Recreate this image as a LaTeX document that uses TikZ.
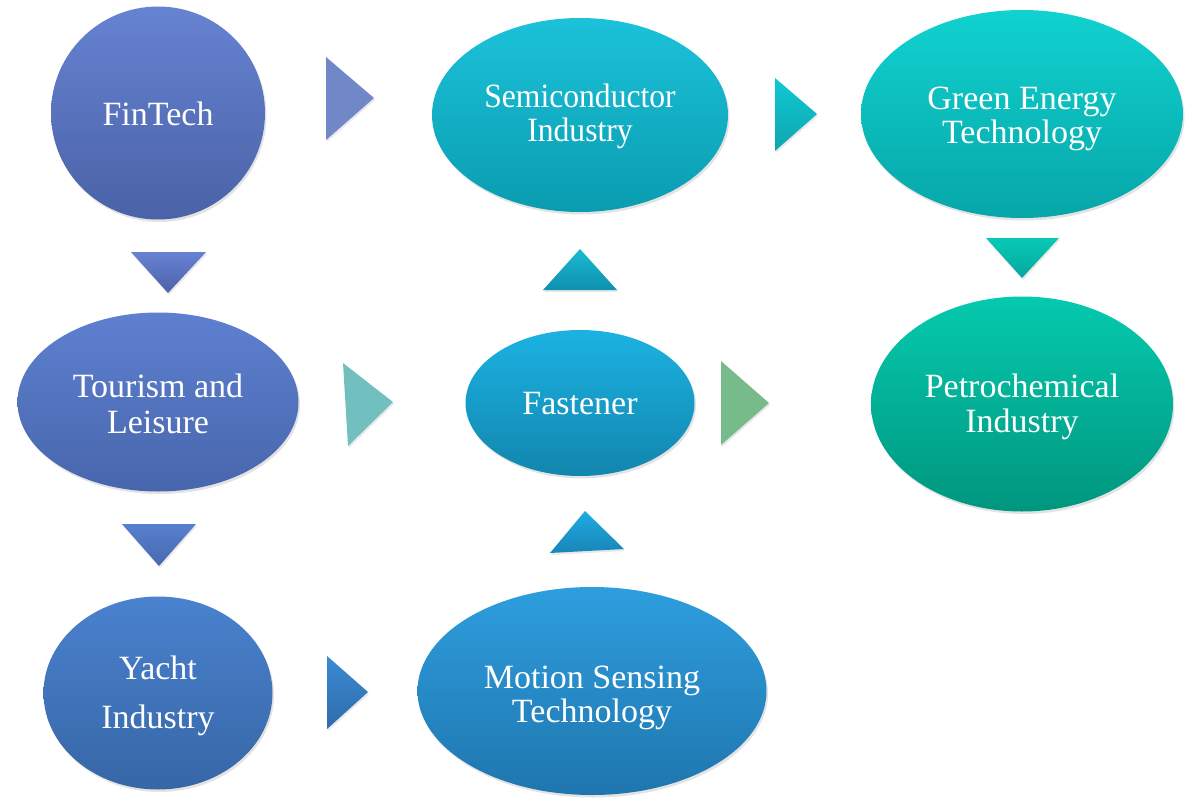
\documentclass[tikz,border=0pt]{standalone}
\usepackage{fontspec}
\setmainfont{Liberation Serif}
\usetikzlibrary{shapes.geometric,shadows}
\tikzset{
  bub/.style={ellipse, inner sep=0pt,
    drop shadow={opacity=0.22, shadow xshift=1.5pt, shadow yshift=-2.5pt}},
  bubtxt/.style={text=white, align=center, inner sep=0pt,
    font=\fontsize{34}{34}\selectfont},
  tri/.style={drop shadow={opacity=0.18, shadow xshift=1pt, shadow yshift=-2pt}}
}
\definecolor{finT}{HTML}{6683D2}\definecolor{finB}{HTML}{4A62A6}
\definecolor{touT}{HTML}{5E80D0}\definecolor{touB}{HTML}{4766AC}
\definecolor{yacT}{HTML}{4A82CE}\definecolor{yacB}{HTML}{3666A6}
\definecolor{semT}{HTML}{1BC2DA}\definecolor{semB}{HTML}{0A9CB0}
\definecolor{greT}{HTML}{10D2D0}\definecolor{greB}{HTML}{07A6A8}
\definecolor{petT}{HTML}{05CAAE}\definecolor{petB}{HTML}{00967E}
\definecolor{fasT}{HTML}{1BB2E2}\definecolor{fasB}{HTML}{1286AE}
\definecolor{motT}{HTML}{2E9EDE}\definecolor{motB}{HTML}{1F76AE}
\begin{document}
\begin{tikzpicture}[x=1pt,y=-1pt]
\useasboundingbox (0,0) rectangle (1191,800);
% nodes
\node[bub, minimum width=214pt, minimum height=213pt, top color=finT, bottom color=finB,
  label={[bubtxt, name=fin-t, yshift=-0.5pt]center:FinTech}] (fin) at (158,113) {};
\node[bub, minimum width=296pt, minimum height=194pt, top color=semT, bottom color=semB,
  label={[bubtxt, name=sem-t, yshift=-2.5pt]center:{\scalebox{0.93}[1]{\begin{tabular}{@{}c@{}}Semiconductor\\Industry\end{tabular}}}}] (sem) at (580,115) {};
\node[bub, minimum width=322pt, minimum height=208pt, top color=greT, bottom color=greB,
  label={[bubtxt, name=gre-t, yshift=-4.5pt]center:{Green Energy\\Technology}}] (gre) at (1022,114) {};
\node[bub, minimum width=281pt, minimum height=179pt, top color=touT, bottom color=touB,
  label={[bubtxt, name=tou-t, yshift=-1.5pt]center:{Tourism and\\[2pt]Leisure}}] (tou) at (158,402) {};
\node[bub, minimum width=229pt, minimum height=146pt, top color=fasT, bottom color=fasB,
  label={[bubtxt, name=fas-t, yshift=-1pt]center:Fastener}] (fas) at (580,403) {};
\node[bub, minimum width=302pt, minimum height=215pt, top color=petT, bottom color=petB,
  label={[bubtxt, name=pet-t, yshift=-3pt]center:{Petrochemical\\[1pt]Industry}}] (pet) at (1022,404) {};
\node[bub, minimum width=229pt, minimum height=193pt, top color=yacT, bottom color=yacB,
  label={[bubtxt, name=yac-t, yshift=-3pt]center:{Yacht\\[15pt]Industry}}] (yac) at (158,693) {};
\node[bub, minimum width=349pt, minimum height=208pt, top color=motT, bottom color=motB,
  label={[bubtxt, name=mot-t, yshift=-6.5pt]center:{Motion Sensing\\Technology}}] (mot) at (592,691) {};
% triangle arrows
\fill[tri, fill={rgb,255:red,112;green,136;blue,200}] (326,57) -- (374,98) -- (326,140) -- cycle;
\shade[tri, top color={rgb,255:red,16;green,200;blue,210}, bottom color={rgb,255:red,14;green,166;blue,176}] (775,78) -- (817,114) -- (775,151) -- cycle;
\shade[tri, top color={rgb,255:red,102;green,130;blue,210}, bottom color={rgb,255:red,76;green,98;blue,168}] (131,252) -- (206,252) -- (168,293) -- cycle;
\shade[tri, top color={rgb,255:red,6;green,202;blue,182}, bottom color={rgb,255:red,8;green,166;blue,158}] (986,238) -- (1059,238) -- (1022,278) -- cycle;
\shade[tri, top color={rgb,255:red,26;green,186;blue,210}, bottom color={rgb,255:red,16;green,144;blue,176}] (580,249) -- (617,290) -- (543,290) -- cycle;
\fill[tri, fill={rgb,255:red,114;green,191;blue,192}] (343,363) -- (393,402) -- (348,446) -- cycle;
\fill[tri, fill={rgb,255:red,120;green,187;blue,138}] (721,361) -- (769,403) -- (721,445) -- cycle;
\shade[tri, top color={rgb,255:red,86;green,128;blue,208}, bottom color={rgb,255:red,72;green,104;blue,174}] (122,524) -- (196,524) -- (159,566) -- cycle;
\shade[tri, top color={rgb,255:red,32;green,170;blue,226}, bottom color={rgb,255:red,24;green,134;blue,184}] (585,511) -- (624,549) -- (550,553) -- cycle;
\shade[tri, top color={rgb,255:red,58;green,138;blue,210}, bottom color={rgb,255:red,46;green,108;blue,172}] (327,656) -- (368,692) -- (327,729) -- cycle;
\end{tikzpicture}
\end{document}
